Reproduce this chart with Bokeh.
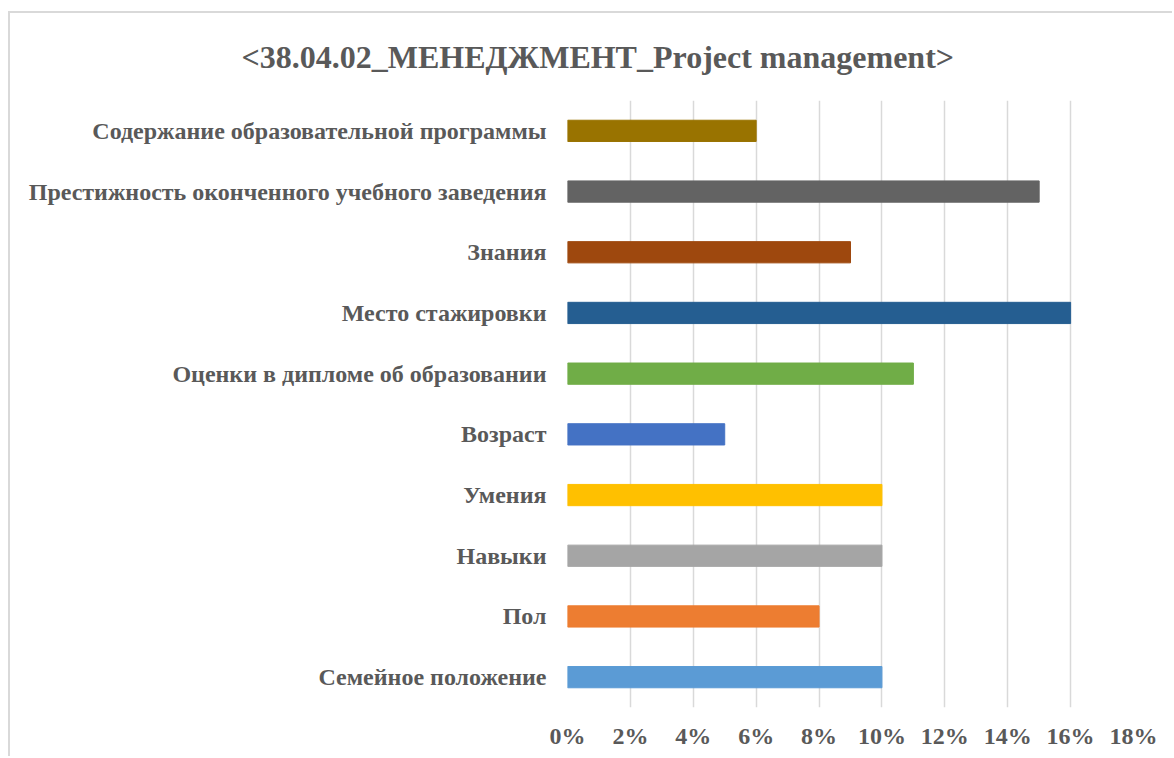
from bokeh.plotting import figure
from bokeh.models import FactorRange, Range1d, NumeralTickFormatter, FixedTicker, Title, ColumnDataSource
from bokeh.embed import file_html
from bokeh.resources import INLINE

title_text = "<38.04.02_МЕНЕДЖМЕНТ_Project management>"
categories = [
    "Семейное положение",
    "Пол",
    "Навыки",
    "Умения",
    "Возраст",
    "Оценки в дипломе об образовании",
    "Место стажировки",
    "Знания",
    "Престижность оконченного учебного заведения",
    "Содержание образовательной программы",
]
values = [0.10, 0.08, 0.10, 0.10, 0.05, 0.11, 0.16, 0.09, 0.15, 0.06]
colors = ["#5B9BD5", "#ED7D31", "#A5A5A5", "#FFC000", "#4472C4",
          "#70AD47", "#255E91", "#9E480E", "#636363", "#997300"]
x_ticks = [0.0, 0.02, 0.04, 0.06, 0.08, 0.10, 0.12, 0.14, 0.16, 0.18]

FONT = "Liberation Serif"
GRAY = "#595959"

src = ColumnDataSource(dict(cat=categories, val=values, color=colors))

p = figure(
    width=1164, height=745,
    y_range=FactorRange(*categories),
    x_range=Range1d(0, 0.18),
    output_backend="svg", toolbar_location=None,
    min_border_left=557, min_border_right=41,
    min_border_top=87, min_border_bottom=51,
    margin=(11, 0, 0, 8),
)
p.styles = {"border-left": "2px solid #d9d9d9", "border-top": "2px solid #d9d9d9"}

p.hbar(y="cat", right="val", left=0, height=0.35, color="color", source=src)

p.outline_line_color = None
p.ygrid.grid_line_color = None
p.xgrid.grid_line_color = "#d9d9d9"
p.xgrid.grid_line_width = 1.5
p.xaxis.ticker = FixedTicker(ticks=x_ticks)
p.xaxis.formatter = NumeralTickFormatter(format="0%")

for ax in (p.xaxis, p.yaxis):
    ax.axis_line_color = None
    ax.major_tick_line_color = None
    ax.minor_tick_line_color = None
    ax.major_label_text_font = FONT
    ax.major_label_text_font_style = "bold"
    ax.major_label_text_color = GRAY
    ax.major_label_text_font_size = "24px"

p.xaxis.major_label_standoff = 9
p.yaxis.major_label_standoff = 15

title = Title(text=title_text, align="left", offset=-326, standoff=48,
              vertical_align="top",
              text_font=FONT, text_font_style="bold",
              text_font_size="32px", text_color=GRAY)
p.add_layout(title, "above")

open("out.html", "w").write(file_html(p, INLINE))
